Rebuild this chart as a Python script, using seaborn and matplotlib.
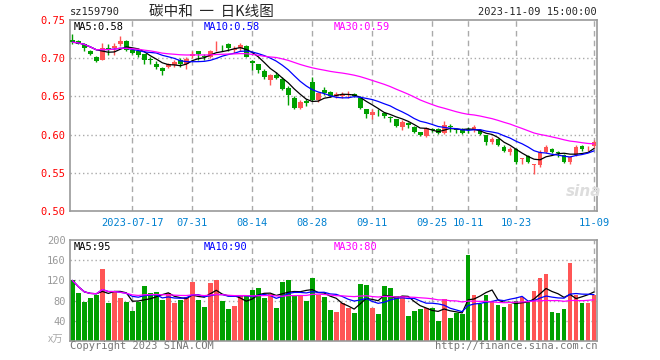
import numpy as np
import pandas as pd
import matplotlib
matplotlib.use("Agg")
import matplotlib.pyplot as plt
import seaborn as sns

sns.set_style("white")
plt.rcParams['font.family'] = ['DejaVu Sans Mono', 'Noto Sans CJK SC']

# K线数据 (2023-07-03 ~ 2023-11-09)
opens = [0.724, 0.723, 0.718, 0.710, 0.702, 0.698, 0.714, 0.714, 0.718, 0.723,
         0.711, 0.710, 0.705, 0.699, 0.693, 0.687, 0.689, 0.691, 0.697, 0.692,
         0.703, 0.709, 0.703, 0.701, 0.713, 0.714, 0.719, 0.711, 0.713, 0.716,
         0.696, 0.692, 0.683, 0.672, 0.678, 0.673, 0.661, 0.648, 0.635, 0.644,
         0.669, 0.645, 0.659, 0.656, 0.651, 0.650, 0.652, 0.653, 0.648, 0.633,
         0.626, 0.630, 0.628, 0.623, 0.620, 0.610, 0.615, 0.610, 0.603, 0.598,
         0.607, 0.607, 0.602, 0.611, 0.607, 0.607, 0.607, 0.607, 0.606, 0.599,
         0.590, 0.594, 0.584, 0.577, 0.581, 0.568, 0.572, 0.560, 0.560, 0.577,
         0.581, 0.577, 0.573, 0.564, 0.573, 0.585, 0.582, 0.585]
highs = [0.732, 0.724, 0.720, 0.711, 0.703, 0.720, 0.718, 0.720, 0.729, 0.724,
         0.712, 0.711, 0.706, 0.702, 0.696, 0.688, 0.694, 0.697, 0.700, 0.701,
         0.709, 0.710, 0.705, 0.711, 0.722, 0.717, 0.720, 0.716, 0.720, 0.717,
         0.697, 0.693, 0.686, 0.679, 0.682, 0.675, 0.663, 0.651, 0.645, 0.646,
         0.675, 0.656, 0.662, 0.657, 0.656, 0.656, 0.657, 0.654, 0.650, 0.634,
         0.633, 0.633, 0.629, 0.625, 0.621, 0.619, 0.616, 0.611, 0.604, 0.610,
         0.609, 0.608, 0.618, 0.614, 0.609, 0.608, 0.610, 0.612, 0.607, 0.600,
         0.597, 0.595, 0.587, 0.584, 0.582, 0.570, 0.573, 0.561, 0.580, 0.586,
         0.582, 0.579, 0.574, 0.572, 0.586, 0.586, 0.585, 0.593]
lows = [0.718, 0.718, 0.709, 0.704, 0.695, 0.697, 0.704, 0.704, 0.716, 0.710,
        0.705, 0.702, 0.693, 0.693, 0.686, 0.678, 0.687, 0.689, 0.689, 0.686,
        0.700, 0.698, 0.698, 0.700, 0.709, 0.709, 0.710, 0.707, 0.709, 0.701,
        0.684, 0.681, 0.673, 0.665, 0.673, 0.659, 0.639, 0.634, 0.633, 0.638,
        0.644, 0.643, 0.652, 0.649, 0.648, 0.648, 0.648, 0.649, 0.633, 0.622,
        0.621, 0.624, 0.622, 0.617, 0.610, 0.606, 0.608, 0.602, 0.598, 0.597,
        0.603, 0.601, 0.601, 0.603, 0.602, 0.601, 0.602, 0.604, 0.600, 0.587,
        0.588, 0.585, 0.577, 0.573, 0.561, 0.562, 0.563, 0.549, 0.558, 0.576,
        0.576, 0.571, 0.563, 0.562, 0.572, 0.579, 0.579, 0.582]
closes = [0.721, 0.719, 0.714, 0.705, 0.696, 0.713, 0.711, 0.716, 0.723, 0.711,
          0.707, 0.704, 0.697, 0.697, 0.689, 0.683, 0.692, 0.695, 0.692, 0.699,
          0.706, 0.705, 0.701, 0.710, 0.714, 0.713, 0.713, 0.712, 0.717, 0.702,
          0.694, 0.684, 0.675, 0.678, 0.674, 0.660, 0.652, 0.635, 0.643, 0.642,
          0.645, 0.654, 0.654, 0.650, 0.653, 0.653, 0.653, 0.650, 0.635, 0.627,
          0.630, 0.629, 0.624, 0.622, 0.611, 0.617, 0.613, 0.603, 0.599, 0.609,
          0.606, 0.602, 0.613, 0.610, 0.606, 0.602, 0.606, 0.610, 0.601, 0.590,
          0.594, 0.586, 0.579, 0.581, 0.564, 0.569, 0.564, 0.561, 0.577, 0.584,
          0.577, 0.576, 0.564, 0.571, 0.584, 0.581, 0.583, 0.590]
# 成交量 (万手)
volumes = [120, 95, 77, 85, 91, 143, 75, 97, 85, 77,
           60, 77, 109, 95, 97, 81, 95, 75, 81, 87,
           117, 81, 68, 115, 121, 79, 64, 70, 92, 89,
           101, 105, 85, 94, 66, 117, 121, 92, 92, 79,
           125, 92, 87, 61, 58, 75, 66, 56, 113, 111,
           66, 53, 109, 105, 89, 89, 50, 59, 63, 66,
           65, 40, 83, 45, 56, 54, 170, 91, 74, 91,
           79, 71, 68, 74, 79, 87, 77, 99, 125, 132,
           57, 55, 63, 154, 91, 75, 75, 91]

tick_dates = ['2023-07-17', '2023-07-31', '2023-08-14', '2023-08-28', '2023-09-11',
              '2023-09-25', '2023-10-11', '2023-10-23', '2023-11-09']
tick_labels = ['2023-07-17', '07-31', '08-14', '08-28', '09-11',
               '09-25', '10-11', '10-23', '11-09']
price_ma_text = ['MA5:0.58', 'MA10:0.58', 'MA30:0.59']
vol_ma_text = ['MA5:95', 'MA10:90', 'MA30:80']

# 交易日 (去掉国庆假期)
holidays = pd.to_datetime(['2023-09-29', '2023-10-02', '2023-10-03', '2023-10-04',
                           '2023-10-05', '2023-10-06'])
dates = pd.bdate_range('2023-07-03', '2023-11-09')
dates = dates[~dates.isin(holidays)]

df = pd.DataFrame({'date': dates, 'open': opens, 'high': highs, 'low': lows,
                   'close': closes, 'vol': volumes})
df['i'] = np.arange(len(df))
df['up'] = df['close'] >= df['open']
for n in [5, 10, 30]:
    df[f'ma{n}'] = df['close'].rolling(n, min_periods=1).mean()
    df[f'vma{n}'] = df['vol'].rolling(n, min_periods=1).mean()

RED = '#FF5555'
GREEN = '#00A000'
GRID = '#AAAAAA'
ma_colors = ['black', '#0000FF', '#FF00FF']
tick_pos = [int(df.index[df['date'] == pd.Timestamp(d)][0]) for d in tick_dates]

fig = plt.figure(figsize=(6.6, 3.6), dpi=100)
ax = fig.add_axes([70/660, 1-211/360, 527/660, 191/360])
axv = fig.add_axes([70/660, 1-341/360, 527/660, 101/360])

# K线
colors = np.where(df['up'], RED, GREEN)
ax.vlines(df['i'], df['low'], df['high'], colors=colors, lw=1, zorder=2)
body = np.maximum((df['close'] - df['open']).abs(), 0.0008)
ax.bar(df['i'], body, bottom=np.minimum(df['open'], df['close']), width=0.8,
       color=colors, linewidth=0, zorder=3)
for n, c in zip([5, 10, 30], ma_colors):
    sns.lineplot(x=df['i'], y=df[f'ma{n}'], color=c, lw=0.9, ax=ax, zorder=4)

# 成交量
sns.barplot(x='i', y='vol', hue='up', data=df, palette={True: RED, False: GREEN},
            dodge=False, legend=False, width=0.8, saturation=1, linewidth=0, ax=axv)
for n, c in zip([5, 10, 30], ma_colors):
    sns.lineplot(x=df['i'], y=df[f'vma{n}'], color=c, lw=0.9, ax=axv, zorder=4)

for a in (ax, axv):
    a.set_xlim(-0.4, len(df) - 0.5)
    a.set_xticks(tick_pos)
    a.set_xlabel('')
    a.set_ylabel('')
    a.tick_params(length=0, pad=3)
    a.grid(False)
    for x in tick_pos:
        a.axvline(x, color=GRID, lw=1, ls=(0, (4, 3)), zorder=0)
    for s in a.spines.values():
        s.set_color('#999999')
        s.set_linewidth(1.2)

ax.set_ylim(0.50, 0.75)
ax.set_yticks(np.arange(0.50, 0.751, 0.05))
ax.set_yticklabels([f'{v:.2f}' for v in np.arange(0.50, 0.751, 0.05)],
                   color='#FF0000', fontsize=7.5)
for v in [0.55, 0.60, 0.65, 0.70]:
    ax.axhline(v, color=GRID, lw=1, ls=(0, (1, 2)), zorder=0)
ax.set_xticklabels(tick_labels, color='#0080D0', fontsize=7.5)
ax.tick_params(axis='x', pad=5)

axv.set_ylim(0, 200)
axv.set_yticks([40, 80, 120, 160, 200])
axv.set_yticklabels(['40', '80', '120', '160', '200'], color='#999999', fontsize=7.5)
axv.set_xticklabels([])
for v in [40, 80, 120, 160]:
    axv.axhline(v, color=GRID, lw=1, ls=(0, (1, 2)), zorder=0)

# 文字
def px(x, y, s, size=7.5, **kw):
    fig.text(x/660, 1-y/360, s, va='center', fontsize=size, **kw)

px(70, 12, 'sz159790')
px(149, 12, '碳中和  一  日K线图', size=10.5, family=['Noto Sans CJK SC', 'DejaVu Sans'])
px(597, 12, '2023-11-09 15:00:00', ha='right')
for t, x, c in zip(price_ma_text, [74, 204, 334], ma_colors):
    px(x, 27, t, color=c)
for t, x, c in zip(vol_ma_text, [74, 204, 334], ma_colors):
    px(x, 247, t, color=c)
px(48, 340, 'x万', color='#AAAAAA', family=['Noto Sans CJK SC', 'DejaVu Sans'])
px(70, 346, 'Copyright 2023 SINA.COM', color='#777777')
px(597, 346, 'http://finance.sina.com.cn', ha='right', color='#777777')
px(566, 192, 'sina', size=11, color='#DDDDDD', style='italic', weight='bold',
   family='DejaVu Sans')

fig.savefig('out.png', dpi=100)
